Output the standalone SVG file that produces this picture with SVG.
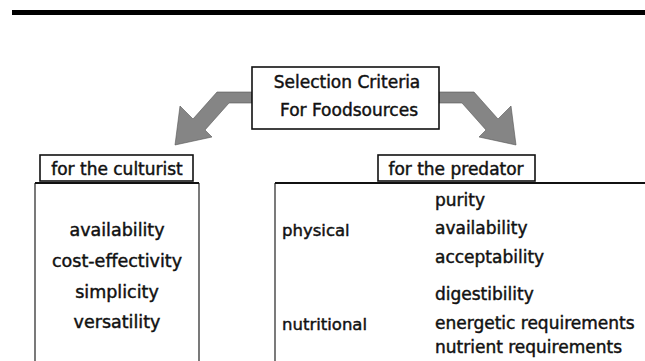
<svg xmlns="http://www.w3.org/2000/svg" width="645" height="361" viewBox="0 0 645 361">
<style>
.t{font-family:"DejaVu Sans","Liberation Sans",sans-serif;fill:#111;stroke:#111;stroke-width:0.45;}
.box{fill:#fff;stroke:#111;stroke-width:1.6;}
.side{fill:none;stroke:#222;stroke-width:1.2;}
.top{stroke:#111;stroke-width:2.2;}
.arrow{fill:#858585;stroke:#555;stroke-width:0.6;}
</style>
<rect x="12" y="10" width="633" height="5" fill="#000"/>
<g id="connectors">
<polygon class="arrow" points="252,92 217,92 193,119 180,106 175,145 212,137 205,130 229,103 252,103"/>
<polygon class="arrow" points="439,92 474,92 498,119 511,106 516,145 479,137 486,130 462,103 439,103"/>
</g>
<g id="criteria">
<rect class="box" x="252" y="67" width="187" height="62"/>
<text class="t" x="347" y="88" font-size="17" text-anchor="middle">Selection Criteria</text>
<text class="t" x="349" y="116" font-size="17" text-anchor="middle">For Foodsources</text>
</g>
<g id="culturist-label">
<rect class="box" x="40" y="155" width="153" height="26"/>
<text class="t" x="117" y="175" font-size="17" text-anchor="middle">for the culturist</text>
</g>
<g id="culturist-box">
<path class="side" d="M35,183 V361 M199,183 V361"/>
<line class="top" x1="35" y1="183" x2="199" y2="183"/>
<text class="t" x="117" y="236" font-size="17.5" text-anchor="middle">availability</text>
<text class="t" x="117" y="267" font-size="17.5" text-anchor="middle">cost-effectivity</text>
<text class="t" x="117" y="298" font-size="17.5" text-anchor="middle">simplicity</text>
<text class="t" x="117" y="328" font-size="17.5" text-anchor="middle">versatility</text>
</g>
<g id="predator-label">
<rect class="box" x="378" y="155" width="157" height="26"/>
<text class="t" x="456" y="175" font-size="17" text-anchor="middle">for the predator</text>
</g>
<g id="predator-box">
<path class="side" d="M275,183 V361"/>
<line class="top" x1="275" y1="183" x2="645" y2="183"/>
<text class="t" x="282" y="236" font-size="16.5">physical</text>
<text class="t" x="282" y="330" font-size="16.5">nutritional</text>
<text class="t" x="435" y="206" font-size="17">purity</text>
<text class="t" x="435" y="234" font-size="17">availability</text>
<text class="t" x="435" y="263" font-size="17">acceptability</text>
<text class="t" x="435" y="300" font-size="17">digestibility</text>
<text class="t" x="435" y="329" font-size="17">energetic requirements</text>
<text class="t" x="435" y="353" font-size="17">nutrient requirements</text>
</g>
</svg>
